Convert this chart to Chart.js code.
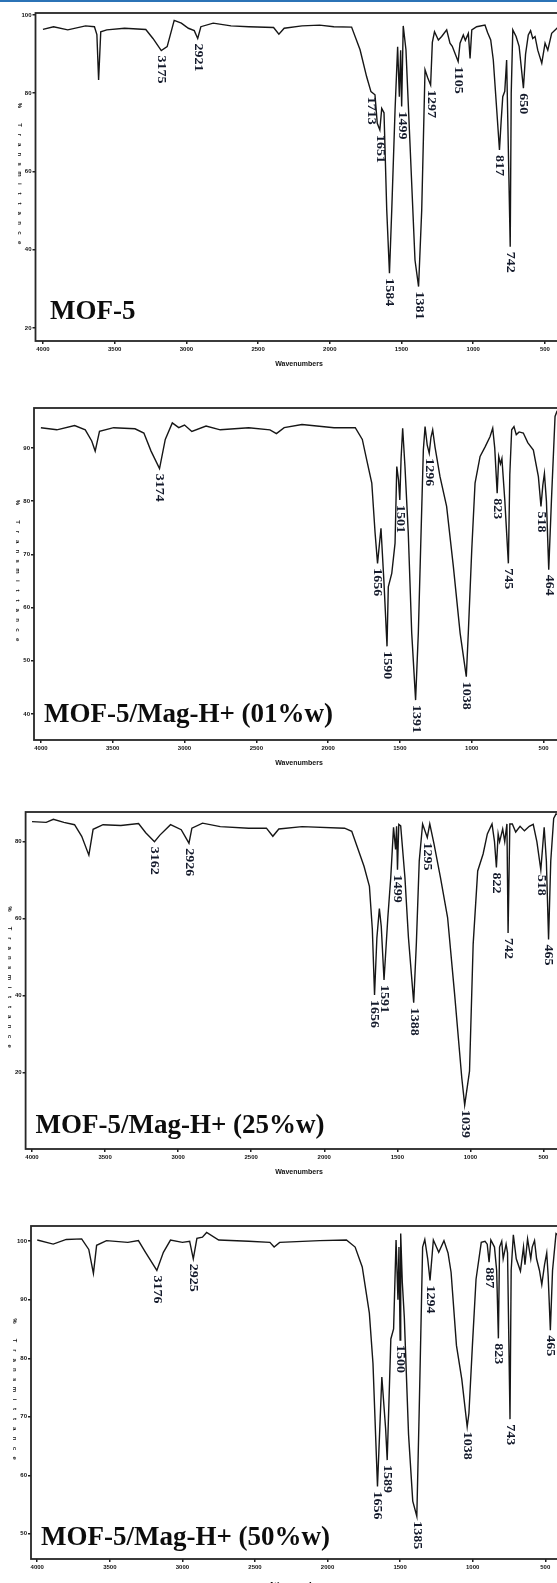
<!DOCTYPE html>
<html>
<head>
<meta charset="utf-8">
<title>FTIR MOF-5</title>
<script src="https://cdn.jsdelivr.net/npm/chart.js@4.4.1/dist/chart.umd.min.js"></script>
<style>
    html, body { margin: 0; padding: 0; background: #fff; overflow: hidden; }
    body { width: 557px; height: 1583px; position: relative; }
    .topline { position: absolute; left: 0; top: 0; width: 557px; height: 2px; background: #2b73b6; z-index: 2; }
    .panel { position: absolute; left: 0; }
</style>
</head>
<body>
<div class="topline"></div>
<div class="panel" id="p1"><canvas id="c1"></canvas></div>
<div class="panel" id="p2"><canvas id="c2"></canvas></div>
<div class="panel" id="p3"><canvas id="c3"></canvas></div>
<div class="panel" id="p4"><canvas id="c4"></canvas></div>

<script>
// Axes
const xTicks = [4000, 3500, 3000, 2500, 2000, 1500, 1000, 500];
const mof5YTicks = [100, 80, 60, 40, 20];
const mag01YTicks = [90, 80, 70, 60, 50, 40];
const mag25YTicks = [80, 60, 40, 20];
const mag50YTicks = [100, 90, 80, 70, 60, 50];

// MOF-5
const mof5Wn = [4000, 3926, 3827, 3703, 3641, 3624, 3612, 3597, 3555, 3431,
                3283, 3233, 3175, 3134, 3085, 3035, 2986, 2945, 2921, 2899,
                2813, 2689, 2565, 2392, 2355, 2318, 2194, 2071, 1972, 1848,
                1789, 1743, 1713, 1685, 1669, 1651, 1638, 1622, 1603, 1584,
                1568, 1545, 1527, 1515, 1506, 1499, 1488, 1469, 1441, 1406,
                1381, 1359, 1336, 1318, 1297, 1285, 1270, 1243, 1220, 1185,
                1162, 1146, 1105, 1092, 1069, 1055, 1034, 1022, 1010, 976,
                918, 900, 878, 860, 836, 817, 805, 794, 780, 767,
                742, 735, 724, 701, 680, 650, 635, 616, 600, 585,
                569, 550, 522, 499, 480, 453, 416, 400];
const mof5T = [96.3, 97.0, 96.2, 97.2, 97.0, 95.0, 83.4, 95.7, 96.2, 96.6,
               96.3, 94.0, 90.9, 91.9, 98.6, 97.9, 96.6, 96.0, 94.0, 97.0,
               97.9, 97.2, 97.0, 96.8, 95.1, 96.6, 97.2, 97.4, 97.0, 96.9,
               91.1, 84.2, 80.4, 79.6, 72.3, 70.6, 76.1, 75.0, 50.2, 34.0,
               50.2, 75.7, 91.9, 79.1, 91.0, 76.6, 97.2, 91.1, 67.2, 37.4,
               30.6, 50.2, 86.0, 84.0, 82.1, 93.0, 95.7, 93.6, 94.5, 96.2,
               92.8, 92.0, 88.1, 92.8, 94.9, 93.5, 95.3, 88.9, 96.2, 97.0,
               97.4, 95.5, 93.6, 88.5, 75.7, 65.5, 73.0, 79.1, 80.5, 88.5,
               40.8, 80.0, 96.2, 94.5, 92.0, 81.3, 90.0, 94.9, 96.0, 94.0,
               94.5, 91.0, 87.7, 92.8, 91.0, 95.3, 96.6, 96.0];
const mof5Peaks = [3175, 2921, 1713, 1651, 1584, 1499, 1381, 1297, 1105, 817, 742, 650];

// MOF-5/Mag-H+ (01%w)
const mag01Wn = [4000, 3889, 3765, 3691, 3646, 3622, 3592, 3493, 3345, 3283,
                 3233, 3174, 3134, 3085, 3040, 3000, 2949, 2850, 2751, 2553,
                 2405, 2360, 2306, 2182, 1959, 1811, 1762, 1731, 1696, 1673,
                 1656, 1632, 1611, 1590, 1581, 1557, 1534, 1522, 1510, 1501,
                 1492, 1481, 1465, 1442, 1418, 1391, 1372, 1353, 1337, 1325,
                 1310, 1296, 1284, 1272, 1256, 1221, 1175, 1128, 1081, 1038,
                 1024, 1000, 977, 942, 907, 873, 854, 840, 823, 812,
                 800, 790, 770, 745, 735, 722, 706, 690, 670, 641,
                 610, 571, 536, 518, 505, 494, 480, 464, 445, 420,
                 405];
const mag01T = [93.8, 93.4, 94.2, 93.4, 91.3, 89.4, 93.1, 93.8, 93.6, 92.8,
                89.4, 86.1, 91.6, 94.7, 93.8, 94.3, 93.1, 94.1, 93.4, 93.8,
                93.4, 92.7, 93.8, 94.4, 93.8, 93.8, 91.6, 87.7, 83.4, 74.0,
                68.3, 74.9, 64.6, 52.7, 63.9, 66.4, 72.1, 86.5, 84.0, 80.2,
                88.0, 93.7, 86.5, 74.0, 55.2, 42.6, 55.2, 74.0, 89.6, 94.0,
                90.5, 89.0, 92.0, 93.4, 90.2, 84.6, 79.0, 67.7, 55.2, 47.0,
                55.2, 70.8, 83.4, 88.4, 90.2, 92.1, 93.7, 90.0, 81.5, 88.4,
                87.0, 88.0, 80.2, 68.3, 85.0, 93.4, 94.0, 92.5, 93.0, 92.8,
                91.0, 89.6, 84.6, 79.0, 83.0, 85.2, 80.0, 67.1, 80.2, 95.9,
                97.0];
const mag01Peaks = [3174, 1656, 1590, 1501, 1391, 1296, 1038, 823, 745, 518, 464];

// MOF-5/Mag-H+ (25%w)
const mag25Wn = [4000, 3903, 3854, 3782, 3709, 3660, 3611, 3582, 3514, 3392,
                 3271, 3222, 3162, 3125, 3052, 2979, 2926, 2906, 2833, 2712,
                 2517, 2396, 2352, 2311, 2152, 1861, 1812, 1776, 1728, 1691,
                 1671, 1656, 1640, 1623, 1610, 1591, 1565, 1545, 1526, 1512,
                 1505, 1499, 1490, 1477, 1448, 1424, 1388, 1370, 1350, 1327,
                 1295, 1278, 1249, 1205, 1156, 1108, 1059, 1039, 1006, 981,
                 950, 913, 884, 852, 835, 822, 810, 800, 779, 765,
                 750, 742, 730, 713, 690, 660, 630, 597, 570, 545,
                 518, 495, 480, 465, 450, 430, 414, 400];
const mag25T = [85.2, 85.0, 85.8, 85.0, 84.4, 81.4, 76.5, 83.2, 84.4, 84.2,
                84.7, 82.3, 80.0, 81.7, 84.4, 83.1, 79.6, 83.5, 84.8, 83.9,
                83.5, 83.5, 81.4, 83.3, 83.9, 83.5, 82.7, 78.8, 73.6, 68.4,
                57.2, 40.2, 55.0, 62.6, 58.0, 44.1, 60.3, 70.7, 83.7, 78.0,
                84.0, 72.7, 84.5, 84.1, 70.7, 55.1, 38.2, 53.4, 75.0, 84.6,
                81.1, 84.6, 79.4, 70.7, 60.3, 40.4, 18.7, 11.6, 20.4, 53.4,
                72.4, 76.8, 82.0, 84.6, 80.0, 73.3, 82.0, 80.0, 83.3, 80.0,
                84.6, 56.3, 84.6, 84.6, 82.5, 84.0, 82.8, 84.0, 84.5, 80.0,
                72.7, 83.7, 75.0, 54.6, 75.0, 86.0, 87.2, 87.0];
const mag25Peaks = [3162, 2926, 1656, 1591, 1499, 1388, 1295, 1039, 822, 742, 518, 465];

// MOF-5/Mag-H+ (50%w)
const mag50Wn = [4000, 3890, 3800, 3694, 3645, 3613, 3591, 3523, 3376, 3303,
                 3254, 3176, 3131, 3082, 3000, 2950, 2925, 2900, 2862, 2833,
                 2750, 2543, 2397, 2368, 2330, 2054, 1870, 1810, 1761, 1712,
                 1687, 1656, 1626, 1600, 1589, 1564, 1545, 1528, 1515, 1508,
                 1500, 1496, 1485, 1471, 1442, 1413, 1385, 1369, 1345, 1330,
                 1310, 1294, 1271, 1234, 1198, 1170, 1149, 1112, 1075, 1038,
                 1026, 1002, 977, 941, 915, 900, 887, 875, 850, 835,
                 823, 815, 800, 790, 770, 760, 743, 735, 720, 700,
                 671, 650, 640, 622, 600, 590, 574, 560, 540, 524,
                 505, 490, 480, 465, 450, 426, 410];
const mag50T = [100.2, 99.5, 100.3, 100.4, 98.6, 94.5, 99.3, 100.1, 99.8, 100.1,
                98.1, 95.0, 98.1, 100.2, 99.8, 100.0, 97.0, 100.5, 100.7, 101.5,
                100.2, 100.0, 99.8, 99.0, 99.8, 100.1, 100.2, 99.0, 95.6, 87.7,
                79.1, 58.1, 76.8, 68.0, 62.6, 83.3, 85.0, 100.2, 90.0, 99.0,
                83.1, 101.3, 93.0, 86.9, 67.0, 55.6, 53.0, 70.6, 99.0, 100.3,
                97.0, 93.3, 100.2, 98.1, 100.1, 98.0, 94.7, 82.2, 76.4, 68.3,
                70.6, 82.2, 93.5, 99.8, 100.0, 99.5, 96.4, 100.2, 99.0, 95.0,
                83.4, 99.0, 100.0, 97.0, 99.5, 98.0, 69.6, 95.0, 101.1, 97.0,
                94.9, 99.0, 96.0, 100.4, 97.0, 99.0, 100.1, 97.0, 95.0, 92.6,
                96.0, 98.0, 94.0, 84.8, 95.0, 101.3, 101.0];
const mag50Peaks = [3176, 2925, 1656, 1589, 1500, 1385, 1294, 1038, 887, 823, 743, 465];

// Mise en page des quatre panneaux (pixels de la page)
const PAD_TOP = 10;
const AXIS_H = 45;
const CANVAS_W = 600;

const panels = [
    { id: 'c1', box: 'p1', top: 13, bottom: 341, left: 35.5, xMax: 4052, xMin: 116, yMax: 100.5, yMin: 16.7,
      wn: mof5Wn, t: mof5T, peaks: mof5Peaks, yTicks: mof5YTicks,
      name: 'MOF-5', nameX: 50, nameY: 319 },
    { id: 'c2', box: 'p2', top: 408, bottom: 740, left: 34, xMax: 4048, xMin: 107, yMax: 97.5, yMin: 35.1,
      wn: mag01Wn, t: mag01T, peaks: mag01Peaks, yTicks: mag01YTicks,
      name: 'MOF-5/Mag-H+ (01%w)', nameX: 44, nameY: 722 },
    { id: 'c3', box: 'p3', top: 812, bottom: 1149, left: 25.6, xMax: 4044, xMin: 113, yMax: 87.7, yMin: 0.2,
      wn: mag25Wn, t: mag25T, peaks: mag25Peaks, yTicks: mag25YTicks,
      name: 'MOF-5/Mag-H+ (25%w)', nameX: 35.5, nameY: 1133 },
    { id: 'c4', box: 'p4', top: 1226, bottom: 1559, left: 31, xMax: 4043, xMin: 123, yMax: 102.6, yMin: 45.7,
      wn: mag50Wn, t: mag50T, peaks: mag50Peaks, yTicks: mag50YTicks,
      name: 'MOF-5/Mag-H+ (50%w)', nameX: 41, nameY: 1545, bigXTitle: true }
];

// Cadre, étiquettes des pics, titres
function decorPlugin(p, canvasTop) {
    return {
        id: 'decor_' + p.id,
        afterDatasetsDraw(chart) {
            const ctx = chart.ctx;
            const a = chart.chartArea;
            const xs = chart.scales.x;
            const ys = chart.scales.y;
            ctx.save();

            // cadre
            ctx.strokeStyle = '#262626';
            ctx.lineWidth = 1.8;
            ctx.strokeRect(a.left, a.top, a.right - a.left + 10, a.bottom - a.top);

            // étiquettes des pics (texte vertical)
            ctx.fillStyle = '#141a2b';
            ctx.font = 'bold 14px "Liberation Serif"';
            ctx.textAlign = 'left';
            ctx.textBaseline = 'middle';
            p.peaks.forEach(w => {
                const i = p.wn.indexOf(w);
                const x = xs.getPixelForValue(w);
                const y = ys.getPixelForValue(p.t[i]) + 5;
                ctx.save();
                ctx.translate(x, y);
                ctx.rotate(Math.PI / 2);
                ctx.scale(1, 0.85);
                ctx.fillText(String(w), 0, 0);
                ctx.restore();
            });

            // nom de l'échantillon
            ctx.fillStyle = '#0d0d0d';
            ctx.font = 'bold 27px "Liberation Serif"';
            ctx.textAlign = 'left';
            ctx.textBaseline = 'alphabetic';
            ctx.fillText(p.name, p.nameX, p.nameY - canvasTop);

            // titre de l'axe y, lettre par lettre
            const yTitle = '% Transmittance';
            const cy = (a.top + a.bottom) / 2 - 3;
            const step = 9.8;
            const tx = a.left - 16;
            ctx.fillStyle = '#111';
            ctx.font = 'bold 6px "Liberation Sans"';
            ctx.textAlign = 'center';
            ctx.textBaseline = 'middle';
            for (let k = 0; k < yTitle.length; k++) {
                ctx.save();
                ctx.translate(tx, cy + (k - (yTitle.length - 1) / 2) * step);
                ctx.rotate(Math.PI / 2);
                ctx.fillText(yTitle[k], 0, 0);
                ctx.restore();
            }

            // titre de l'axe x
            if (p.bigXTitle) {
                ctx.font = 'bold 9px "Liberation Serif"';
                ctx.textBaseline = 'alphabetic';
                ctx.fillText('Wavenumbers', 298, a.bottom + 29);
            } else {
                ctx.font = 'bold 7px "Liberation Sans"';
                ctx.fillText('Wavenumbers', 299, a.bottom + 23);
            }
            ctx.restore();
        }
    };
}

function makeSpectrum(p) {
    const canvasTop = p.top - PAD_TOP;
    const h = p.bottom - p.top + PAD_TOP + AXIS_H;
    const box = document.getElementById(p.box);
    box.style.top = canvasTop + 'px';
    const canvas = document.getElementById(p.id);
    canvas.width = CANVAS_W;
    canvas.height = h;
    canvas.style.width = CANVAS_W + 'px';
    canvas.style.height = h + 'px';

    return new Chart(canvas.getContext('2d'), {
        type: 'line',
        data: {
            datasets: [{
                data: p.wn.map((w, i) => ({ x: w, y: p.t[i] })),
                borderColor: '#161616',
                borderWidth: 1.4,
                pointRadius: 0,
                tension: 0,
                fill: false
            }]
        },
        options: {
            responsive: false,
            animation: false,
            devicePixelRatio: 1,
            layout: { padding: { top: PAD_TOP, left: 0, right: 0, bottom: 0 } },
            plugins: { legend: { display: false }, tooltip: { enabled: false } },
            scales: {
                x: {
                    type: 'linear',
                    reverse: true,
                    min: p.xMin,
                    max: p.xMax,
                    afterBuildTicks: s => { s.ticks = xTicks.map(v => ({ value: v })); },
                    afterFit: s => { s.height = AXIS_H; },
                    border: { display: false },
                    grid: { drawOnChartArea: false, drawTicks: true, tickLength: 3, color: '#222', lineWidth: 1.5 },
                    ticks: {
                        autoSkip: false, maxRotation: 0, padding: 2, color: '#111',
                        callback: v => String(v),
                        font: { size: 6, weight: 'bold', family: 'Liberation Sans' }
                    }
                },
                y: {
                    type: 'linear',
                    min: p.yMin,
                    max: p.yMax,
                    afterBuildTicks: s => { s.ticks = p.yTicks.map(v => ({ value: v })); },
                    afterFit: s => { s.width = p.left; },
                    border: { display: false },
                    grid: { drawOnChartArea: false, drawTicks: true, tickLength: 3, color: '#222', lineWidth: 1.5 },
                    ticks: {
                        padding: 1, color: '#111',
                        callback: v => String(v),
                        font: { size: 6, weight: 'bold', family: 'Liberation Sans' }
                    }
                }
            }
        },
        plugins: [decorPlugin(p, canvasTop)]
    });
}

panels.forEach(makeSpectrum);
</script>
</body>
</html>
